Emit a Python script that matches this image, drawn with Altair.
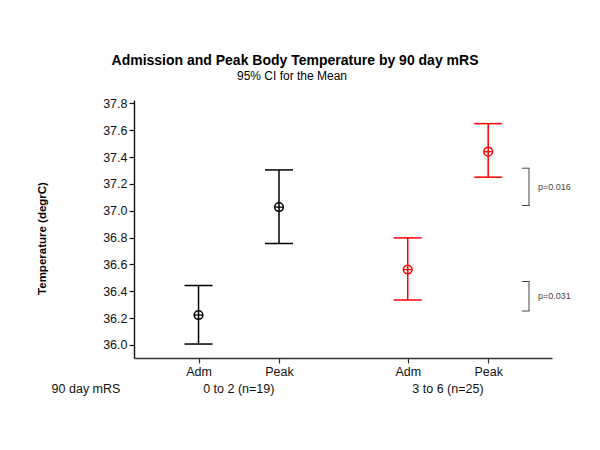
import altair as alt
import pandas as pd

# ---- data ----
groups = ["0 to 2 (n=19)", "0 to 2 (n=19)", "3 to 6 (n=25)", "3 to 6 (n=25)"]
measures = ["Adm", "Peak", "Adm", "Peak"]
means = [36.223, 37.027, 36.562, 37.440]
lower = [36.007, 36.756, 36.335, 37.250]
upper = [36.443, 37.304, 36.798, 37.649]

group_names = ["0 to 2 (n=19)", "3 to 6 (n=25)"]
group_colors = ["#000000", "#ff0000"]

p_labels = ["p=0.016", "p=0.031"]
bracket_low = [37.039, 36.253]
bracket_high = [37.317, 36.473]

y_ticks = [36.0, 36.2, 36.4, 36.6, 36.8, 37.0, 37.2, 37.4, 37.6, 37.8]

title_text = "Admission and Peak Body Temperature by 90 day mRS"
subtitle_text = "95% CI for the Mean"
y_title = "Temperature (degrC)"
x_row_title = "90 day mRS"

# ---- build table ----
measure_order = ["Adm", "Peak"]
df = pd.DataFrame({
    "group": groups, "measure": measures,
    "mean": means, "lower": lower, "upper": upper,
})
df["pos"] = [round(group_names.index(g) * 2.6 + measure_order.index(m), 2)
             for g, m in zip(groups, measures)]

gdf = df.groupby("group", as_index=False)["pos"].mean()

bdf = pd.DataFrame({"p": p_labels, "lo": bracket_low, "hi": bracket_high})
bdf["mid"] = (bdf["lo"] + bdf["hi"]) / 2

W, H = 418, 258
xscale = alt.Scale(domain=[-0.802, 4.393], nice=False, zero=False)
yscale = alt.Scale(domain=[35.903, 37.825], nice=False, zero=False)

label_expr = " : ".join(
    f"abs(datum.value - {p}) < 0.01 ? '{m}'" for p, m in zip(df["pos"], df["measure"])
) + " : ''"

xaxis = alt.Axis(values=list(df["pos"]), labelExpr=label_expr, title=None,
                 grid=False, tickSize=5, labelPadding=2, labelFontSize=12.5,
                 labelColor="#111", domainColor="#333", tickColor="#333",
                 domainWidth=1.6, tickWidth=1.2, labelFont="Liberation Sans")
yaxis = alt.Axis(values=y_ticks, format=".1f", grid=False, tickSize=5,
                 labelPadding=2, labelFontSize=12.5, labelColor="#111",
                 domainColor="#111", tickColor="#111", domainWidth=1.4,
                 tickWidth=1.2, labelFont="Liberation Sans",
                 title=y_title, titleFont="Liberation Sans", titleFontSize=11.5,
                 titleFontWeight="bold", titleColor="#000", titleAngle=-90,
                 titleX=-92, titleY=138, titleAlign="center",
                 titleBaseline="middle")

color = alt.Color("group:N", scale=alt.Scale(domain=group_names, range=group_colors),
                  legend=None)

def X(field="pos"):
    return alt.X(f"{field}:Q", scale=xscale, axis=xaxis)

def Y(field):
    return alt.Y(f"{field}:Q", scale=yscale, axis=yaxis)

base = alt.Chart(df)

stems = base.mark_rule(strokeWidth=1.5).encode(x=X(), y=Y("lower"), y2="upper:Q", color=color)
cap_top = base.mark_rule(strokeWidth=1.5, xOffset=-14, x2Offset=14).encode(
    x=X(), x2="pos:Q", y=Y("upper"), color=color)
cap_bot = base.mark_rule(strokeWidth=1.5, xOffset=-14, x2Offset=14).encode(
    x=X(), x2="pos:Q", y=Y("lower"), color=color)
circles = base.mark_point(shape="circle", filled=False, size=75, strokeWidth=1.5,
                          opacity=1).encode(x=X(), y=Y("mean"), color=color)
cross = base.mark_rule(strokeWidth=1.3, xOffset=-4.5, x2Offset=4.5).encode(
    x=X(), x2="pos:Q", y=Y("mean"), color=color)

group_labels = alt.Chart(gdf).mark_text(fontSize=12.5, font="Liberation Sans",
                                        color="#111", baseline="middle").encode(
    x=X(), y=alt.value(289), text="group:N")

row_title = alt.Chart(pd.DataFrame({"t": [x_row_title]})).mark_text(
    fontSize=12.5, font="Liberation Sans", color="#111", baseline="middle").encode(
    x=alt.value(-48), y=alt.value(289), text="t:N")

title = alt.Chart(pd.DataFrame({"t": [title_text]})).mark_text(
    fontSize=14, fontWeight="bold", font="Liberation Sans", color="#000",
    baseline="alphabetic").encode(x=alt.value(161), y=alt.value(-35), text="t:N")
subtitle = alt.Chart(pd.DataFrame({"t": [subtitle_text]})).mark_text(
    fontSize=12, font="Liberation Sans", color="#000",
    baseline="alphabetic").encode(x=alt.value(158), y=alt.value(-20), text="t:N")

bb = alt.Chart(bdf)
br_v = bb.mark_rule(strokeWidth=1, color="#444").encode(
    x=alt.value(395), y=Y("lo"), y2="hi:Q")
br_t = bb.mark_rule(strokeWidth=1, color="#444").encode(
    x=alt.value(388), x2=alt.value(395.5), y=Y("hi"))
br_b = bb.mark_rule(strokeWidth=1, color="#444").encode(
    x=alt.value(388), x2=alt.value(395.5), y=Y("lo"))
br_txt = bb.mark_text(fontSize=9, font="Liberation Sans", color="#444",
                      align="left", baseline="middle").encode(
    x=alt.value(404), y=Y("mid"), text="p:N")

chart = alt.layer(
    stems, cap_top, cap_bot, cross, circles, group_labels, row_title,
    title, subtitle, br_v, br_t, br_b, br_txt
).properties(
    width=W, height=H,
    autosize=alt.AutoSizeParams(type="none"),
    padding={"left": 126, "top": 92, "right": 30, "bottom": 60},
    background="white",
).configure_view(stroke=None)

chart.save("out.html", embed_options={"renderer": "svg", "actions": False})
